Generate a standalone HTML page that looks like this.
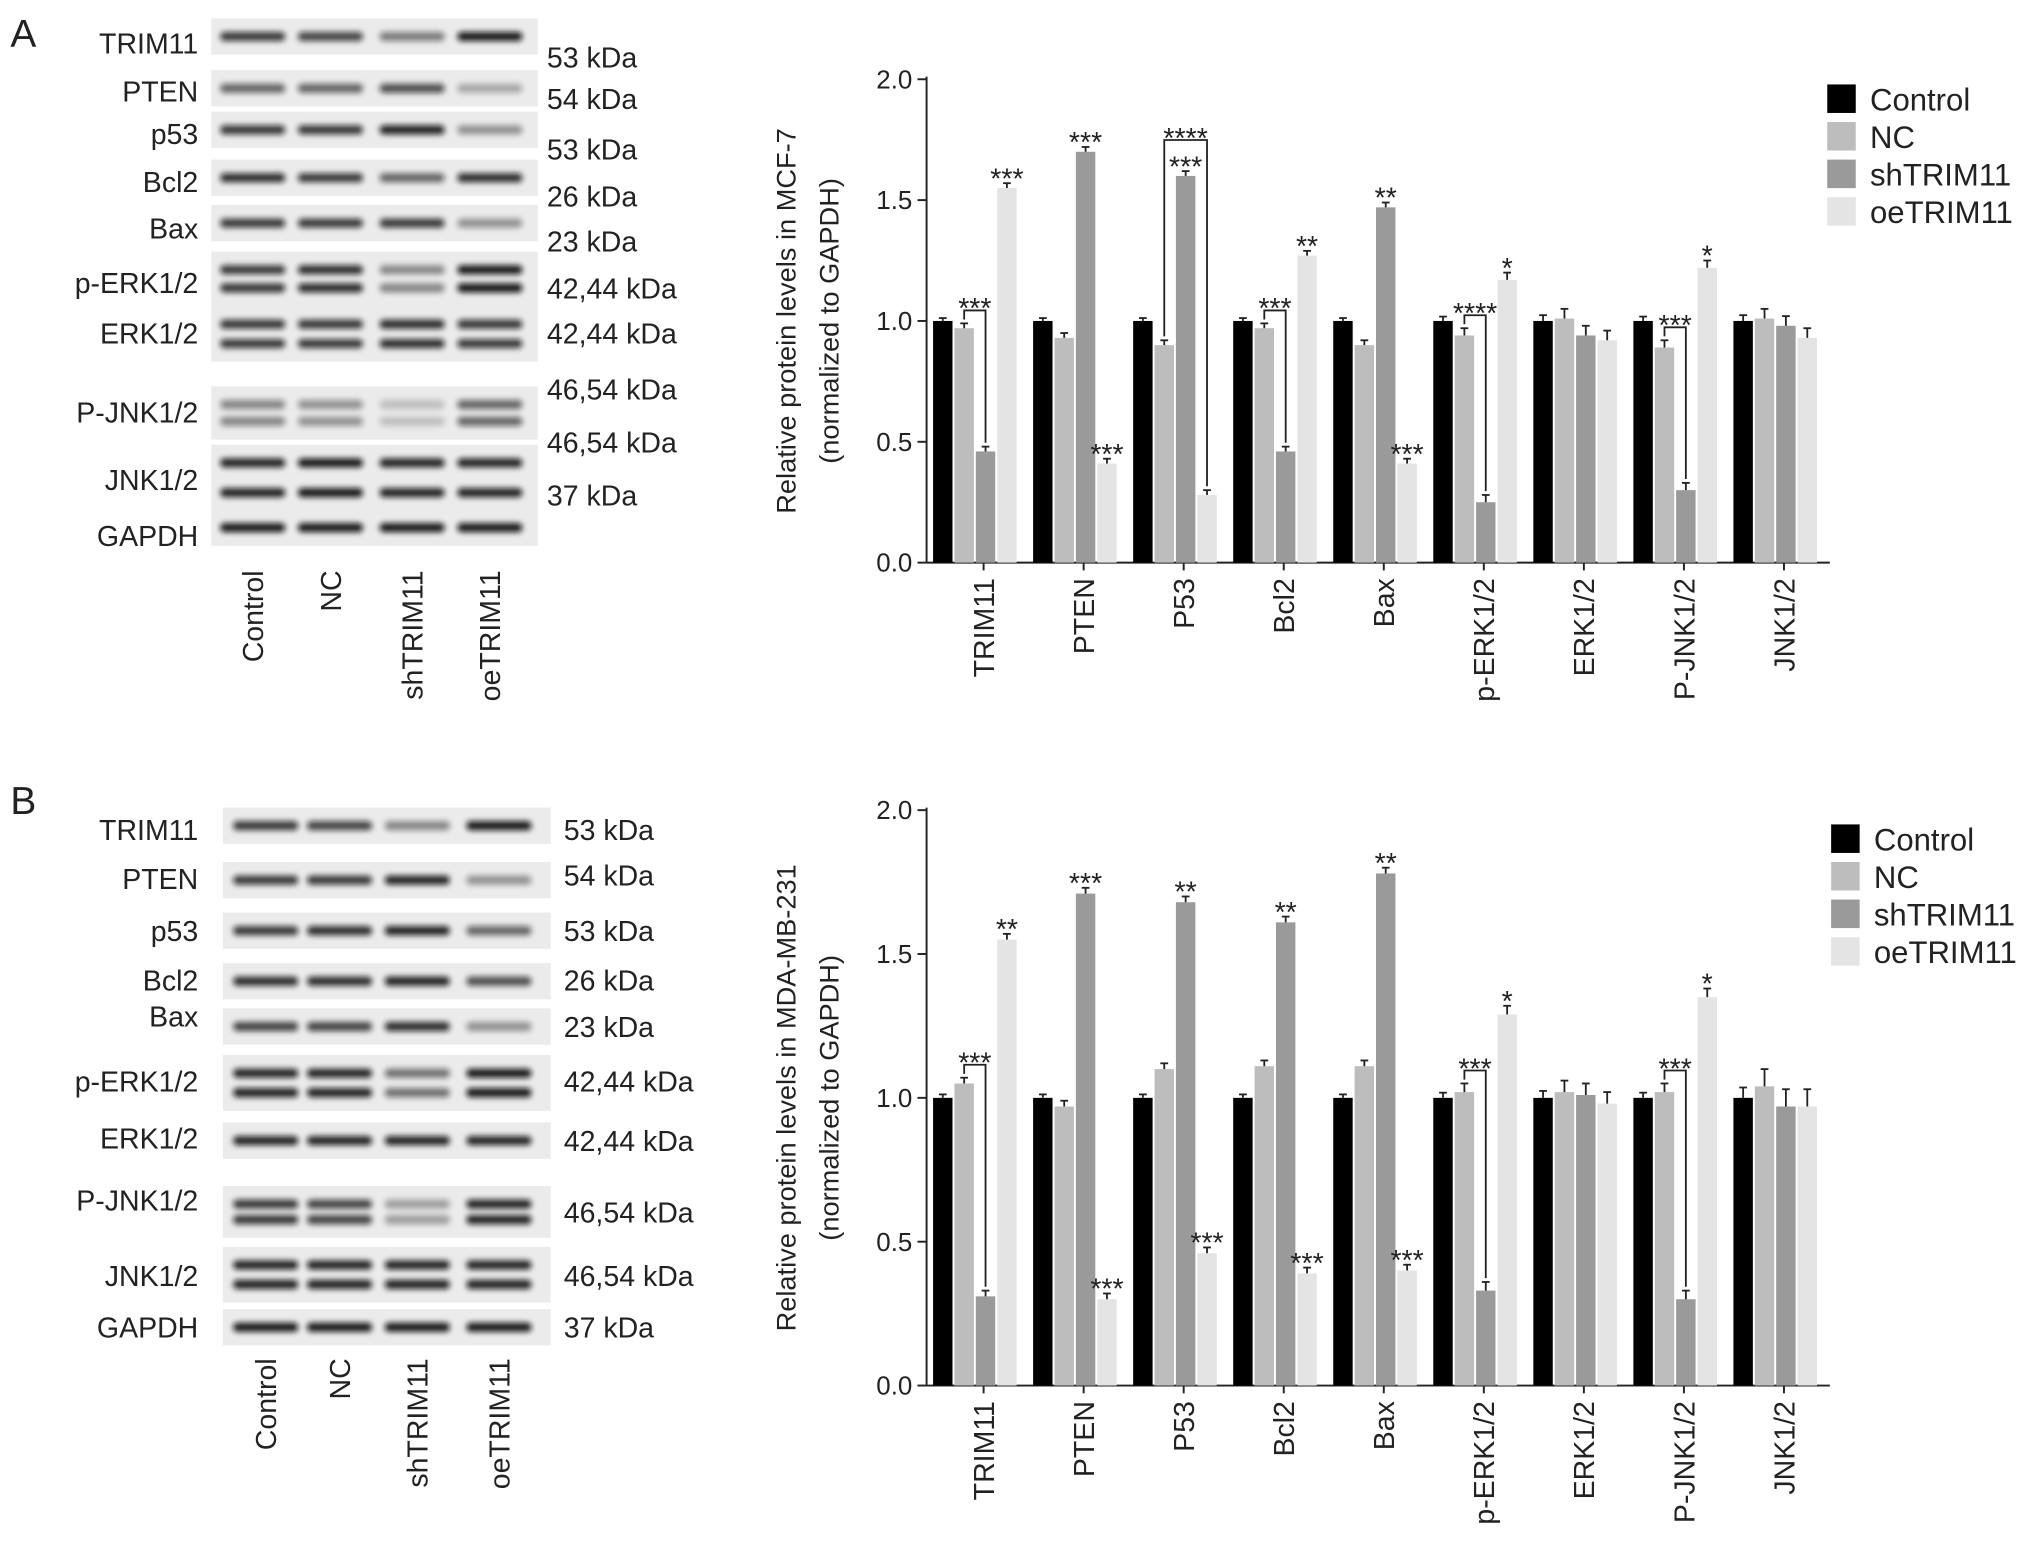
<!DOCTYPE html>
<html><head><meta charset="utf-8"><style>
html,body{margin:0;padding:0;background:#fff}
svg{display:block}
text{font-family:"Liberation Sans",sans-serif;fill:#222}
</style></head><body>
<svg id="fig" width="2032" height="1562" viewBox="0 0 1568 1205" xmlns="http://www.w3.org/2000/svg">
<defs><filter id="bl" x="-20%" y="-100%" width="140%" height="300%"><feGaussianBlur stdDeviation="2.2"/></filter></defs>
<text x="8" y="36" font-size="30">A</text>
<text x="8" y="628" font-size="30">B</text>
<g id="root"></g>
</svg>
<script>
const NS="http://www.w3.org/2000/svg";
const root=document.getElementById('root');
function mk(tag,attrs,parent,txt){const e=document.createElementNS(NS,tag);for(const k in attrs)e.setAttribute(k,attrs[k]);if(txt!==undefined)e.textContent=txt;(parent||root).appendChild(e);return e;}

// ---------- chart data ----------
const categories=["TRIM11","PTEN","P53","Bcl2","Bax","p-ERK1/2","ERK1/2","P-JNK1/2","JNK1/2"];
const seriesNames=["Control","NC","shTRIM11","oeTRIM11"];
const yTicks=[0.0,0.5,1.0,1.5,2.0];
const aControl=[1.0,1.0,1.0,1.0,1.0,1.0,1.0,1.0,1.0];
const aNC=[0.97,0.93,0.90,0.97,0.90,0.94,1.01,0.89,1.01];
const aSh=[0.46,1.70,1.60,0.46,1.47,0.25,0.94,0.30,0.98];
const aOe=[1.55,0.41,0.28,1.27,0.41,1.17,0.92,1.22,0.93];
const aErr=[0.02,0.02,0.02,0.02,0.02,0.03,0.04,0.03,0.04];
const aStars=[["","","","***"],["","","***","***"],["","","***",""],["","","","**"],["","","**","***"],["","","","*"],["","","",""],["","","","*"],["","","",""]];
const aBrackets=[[0,1,2,"***"],[2,1,3,"****"],[3,1,2,"***"],[5,1,2,"****"],[7,1,2,"***"]];
const bControl=[1.0,1.0,1.0,1.0,1.0,1.0,1.0,1.0,1.0];
const bNC=[1.05,0.97,1.10,1.11,1.11,1.02,1.02,1.02,1.04];
const bSh=[0.31,1.71,1.68,1.61,1.78,0.33,1.01,0.30,0.97];
const bOe=[1.55,0.30,0.46,0.39,0.40,1.29,0.98,1.35,0.97];
const bErr=[0.02,0.02,0.02,0.02,0.02,0.03,0.04,0.03,0.06];
const bStars=[["","","","**"],["","","***","***"],["","","**","***"],["","","**","***"],["","","**","***"],["","","","*"],["","","",""],["","","","*"],["","","",""]];
const bBrackets=[[0,1,2,"***"],[5,1,2,"***"],[7,1,2,"***"]];
const colors=["#000","#bdbdbd","#9a9a9a","#e4e4e4"];

function chart(cfg){
  const g=mk('g',{});
  
  
  const x0=715,x1=1412,y0=cfg.y0,yTop=cfg.yTop;
  const ys=v=>y0-(v/2)*(y0-yTop);
  const gw=77.2, gx=i=>720+i*gw;
  const bxOf=(i,s)=>gx(i)+s*16.5;
  const ax=mk('g',{},g);
  
  mk('line',{x1:x0,y1:yTop-2,x2:x0,y2:y0,stroke:'#222','stroke-width':1.5},ax);
  yTicks.forEach(t=>{
    mk('line',{x1:x0-7,x2:x0,y1:ys(t),y2:ys(t),stroke:'#222','stroke-width':1.5},ax);
    const tl=mk('text',{x:x0-11,y:ys(t)+7,'font-size':20,'text-anchor':'end'},ax,t.toFixed(1));
    
  });
  const xa=mk('line',{x1:x0,x2:x1,y1:y0,y2:y0,stroke:'#222','stroke-width':1.5},g);
  
  const cy=(y0+yTop)/2;
  const t1=mk('text',{x:0,y:0,'font-size':21,'text-anchor':'middle',transform:`translate(614,${cy}) rotate(-90)`},g,cfg.title1);
  
  const t2=mk('text',{x:0,y:0,'font-size':21,'text-anchor':'middle',transform:`translate(647,${cy}) rotate(-90)`},g,'(normalized to GAPDH)');
  
  categories.forEach((c,i)=>{
    const cx=gx(i)+39;
    mk('line',{x1:cx,x2:cx,y1:y0,y2:y0+6,stroke:'#222','stroke-width':1.5},g);
    const tx=mk('text',{x:0,y:0,'font-size':22,'text-anchor':'end',transform:`translate(${cx+8},${y0+12}) rotate(-90)`},g,c);
    
    cfg.series.forEach((arr,s)=>{
      const v=arr[i],bx=bxOf(i,s),bw=15;
      const r=mk('rect',{x:bx,y:ys(v),width:bw,height:y0-ys(v),fill:colors[s]},g);
      
      
      const e=s===0?cfg.err[i]*0.6:cfg.err[i];
      mk('line',{x1:bx+bw/2,x2:bx+bw/2,y1:ys(v),y2:ys(v+e),stroke:'#222','stroke-width':1.4},g);
      mk('line',{x1:bx+bw/2-3,x2:bx+bw/2+3,y1:ys(v+e),y2:ys(v+e),stroke:'#222','stroke-width':1.4},g);
      const st=cfg.stars[i][s];
      if(st){const sl=mk('text',{x:bx+bw/2,y:ys(v+e)+4,'font-size':22,'text-anchor':'middle'},g,st);
        }
    });
  });
  cfg.brackets.forEach(b=>{
    const [i,s1,s2,lab]=b;
    const v1=cfg.series[s1][i]+cfg.err[i],v2=cfg.series[s2][i]+cfg.err[i];
    let vmax=0;for(let s=s1;s<=s2;s++)vmax=Math.max(vmax,cfg.series[s][i]+cfg.err[i]);
    const xa1=bxOf(i,s1)+7.5,xa2=bxOf(i,s2)+7.5;
    const top=ys(vmax)-(vmax>Math.max(v1,v2)?24:10);
    const br=mk('path',{d:`M${xa1},${ys(v1)-3}V${top}H${xa2}V${ys(v2)-3}`,fill:'none',stroke:'#222','stroke-width':1.4},g);
    
    const sl=mk('text',{x:(xa1+xa2)/2,y:top+6,'font-size':22,'text-anchor':'middle'},g,lab);
    
  });
  const lg=mk('g',{},g);
  
  seriesNames.forEach((n,s)=>{
    const ly=cfg.legY+s*29;
    const sw=mk('rect',{x:cfg.legX,y:ly,width:22,height:22,fill:colors[s]},lg);
    
    const lt=mk('text',{x:cfg.legX+33,y:ly+20,'font-size':24},lg,n);
    
  });
}
chart({name:'chart-mcf7',y0:434,yTop:61,series:[aControl,aNC,aSh,aOe],err:aErr,stars:aStars,brackets:aBrackets,title1:'Relative protein levels in MCF-7',legX:1410,legY:65});
chart({name:'chart-mda-mb-231',y0:1069,yTop:625,series:[bControl,bNC,bSh,bOe],err:bErr,stars:bStars,brackets:bBrackets,title1:'Relative protein levels in MDA-MB-231',legX:1413,legY:636});

// ---------- western blots ----------
const laneNames=["Control","NC","shTRIM11","oeTRIM11"];
const blotA=[["TRIM11",33,[28],[0.8,0.75,0.5,0.95],"53 kDa",44],["PTEN",70,[68],[0.6,0.6,0.7,0.3],"54 kDa",76],["p53",103,[100],[0.8,0.8,0.9,0.4],"53 kDa",115],["Bcl2",140,[137],[0.85,0.8,0.6,0.85],"26 kDa",151],["Bax",176,[172],[0.8,0.8,0.8,0.4],"23 kDa",186],["p-ERK1/2",218,[208,222],[0.8,0.85,0.45,0.95],"42,44 kDa",222],["ERK1/2",257,[250,265],[0.8,0.8,0.85,0.8],"42,44 kDa",257],["P-JNK1/2",318,[312,325],[0.45,0.4,0.2,0.6],"46,54 kDa",300],["JNK1/2",370,[357,380],[0.9,0.95,0.9,0.9],"46,54 kDa",341],["GAPDH",413,[407],[0.95,0.95,0.95,0.95],"37 kDa",382]];
const blotB=[["TRIM11",640,[637],[0.8,0.75,0.45,0.95],"53 kDa",640],["PTEN",678,[679],[0.8,0.8,0.9,0.4],"54 kDa",675],["p53",718,[718],[0.8,0.85,0.9,0.6],"53 kDa",718],["Bcl2",756,[757],[0.85,0.85,0.9,0.7],"26 kDa",756],["Bax",784,[792],[0.75,0.75,0.85,0.4],"23 kDa",792],["p-ERK1/2",834,[828,843],[0.9,0.9,0.55,0.95],"42,44 kDa",834],["ERK1/2",878,[880],[0.9,0.9,0.9,0.9],"42,44 kDa",880],["P-JNK1/2",926,[929,941],[0.8,0.75,0.35,0.9],"46,54 kDa",935],["JNK1/2",984,[976,991],[0.9,0.9,0.9,0.9],"46,54 kDa",984],["GAPDH",1024,[1024],[0.95,0.95,0.95,0.95],"37 kDa",1024]];
function blot(rows,name,bx0,bx1,lanes,kx,labY){
  const g=mk('g',{});
  
  rows.forEach(r=>{
    const [lab,ly,bands,ints,kda,ky]=r;
    const top=Math.min(...bands)-14,bot=Math.max(...bands)+14;
    mk('rect',{x:bx0,y:top,width:bx1-bx0,height:bot-top,fill:'#ebebeb'},g);
    bands.forEach(by=>lanes.forEach((lx,k)=>{
      mk('rect',{x:lx-25,y:by-3.5,width:50,height:7,rx:3,fill:'#111',opacity:ints[k],filter:'url(#bl)'},g);
    }));
    const t=mk('text',{x:153,y:ly+8,'font-size':22,'text-anchor':'end'},g,lab);
    
    const kt=mk('text',{x:kx,y:ky+8,'font-size':22},g,kda);
    
  });
  lanes.forEach((lx,k)=>{
    const t=mk('text',{x:0,y:0,'font-size':22,'text-anchor':'end',transform:`translate(${lx+8},${labY}) rotate(-90)`},g,laneNames[k]);
    
  });
}
blot(blotA,'western-blot-a',163,415,[195,255,318,378],422,440);
blot(blotB,'western-blot-b',172,425,[205,262,322,385],435,1048);
</script>
</body></html>
